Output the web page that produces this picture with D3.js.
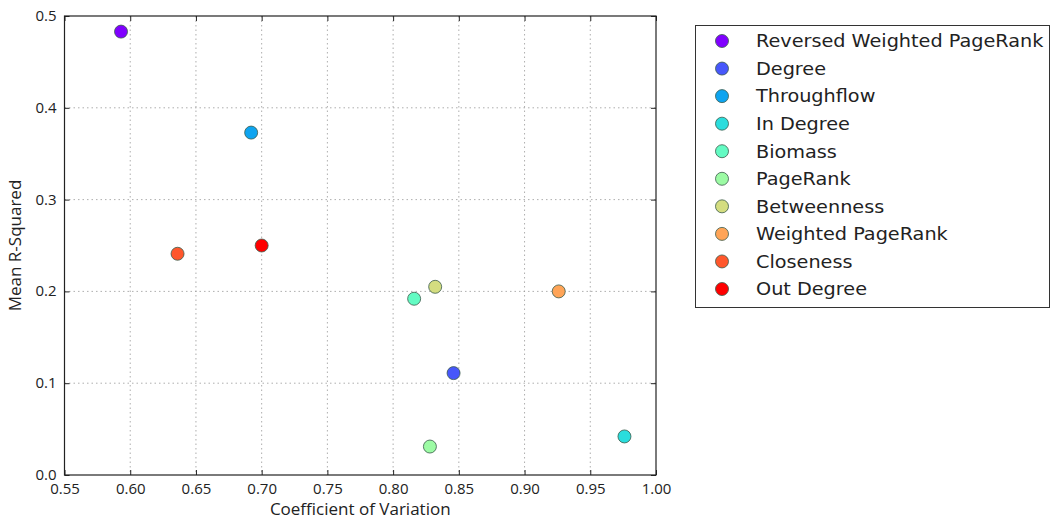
<!DOCTYPE html>
<html><head><meta charset="utf-8">
<script src="https://cdn.jsdelivr.net/npm/d3@7"></script>
<style>body{margin:0;background:#fff;}svg{display:block;}</style>
</head><body>
<svg id="chart" width="1052" height="521"></svg>
<script>
const names = ["Reversed Weighted PageRank","Degree","Throughflow","In Degree","Biomass","PageRank","Betweenness","Weighted PageRank","Closeness","Out Degree"];
const cvValues = [0.593,0.846,0.692,0.976,0.816,0.828,0.832,0.926,0.636,0.700];
const r2Values = [0.483,0.111,0.373,0.042,0.192,0.031,0.205,0.200,0.241,0.250];
const xTicks = [0.55,0.60,0.65,0.70,0.75,0.80,0.85,0.90,0.95,1.00];
const yTicks = [0.0,0.1,0.2,0.3,0.4,0.5];

function rainbow(t){
  const r = Math.min(1, Math.abs(2*t-0.5)), g = Math.sin(Math.PI*t), b = Math.cos(Math.PI*t/2);
  return d3.rgb(r*255, g*255, b*255).formatHex();
}
const colors = names.map((_, i) => rainbow(i/(names.length-1)));

const svg = d3.select("#chart");
const L = 64.5, R = 656, T = 16, B = 475;
const x = d3.scaleLinear().domain([0.55,1.0]).range([L,R]);
const y = d3.scaleLinear().domain([0,0.5]).range([B,T]);
const axFont = "'Open Sans', sans-serif";
const lgFont = "DejaVu Sans, sans-serif";

// grid
const g = svg.append("g");
g.selectAll(".vg").data(xTicks.slice(1,-1)).join("line")
  .attr("x1", d=>x(d)).attr("x2", d=>x(d)).attr("y1", T).attr("y2", B)
  .attr("stroke", "#999").attr("stroke-width", 0.8).attr("stroke-dasharray", "1.5,3");
g.selectAll(".hg").data(yTicks.slice(1,-1)).join("line")
  .attr("y1", d=>y(d)).attr("y2", d=>y(d)).attr("x1", L).attr("x2", R)
  .attr("stroke", "#999").attr("stroke-width", 0.8).attr("stroke-dasharray", "1.5,3");

// axes (ticks inward)
const axB = svg.append("g").attr("transform", `translate(0,${B})`)
  .call(d3.axisBottom(x).tickValues(xTicks).tickFormat(d3.format(".2f")).tickSizeInner(-5).tickSizeOuter(0).tickPadding(8));
const axT = svg.append("g").attr("transform", `translate(0,${T})`)
  .call(d3.axisTop(x).tickValues(xTicks).tickFormat("").tickSizeInner(-5).tickSizeOuter(0));
const axL = svg.append("g").attr("transform", `translate(${L},0)`)
  .call(d3.axisLeft(y).tickValues(yTicks).tickFormat(d3.format(".1f")).tickSizeInner(-5).tickSizeOuter(0).tickPadding(8));
const axR = svg.append("g").attr("transform", `translate(${R},0)`)
  .call(d3.axisRight(y).tickValues(yTicks).tickFormat("").tickSizeInner(-5).tickSizeOuter(0));
[axB,axT,axL,axR].forEach(a=>{
  a.select(".domain").remove();
  a.selectAll(".tick line").attr("stroke","#222");
  a.selectAll("text").attr("font-family", axFont).attr("font-size", 15).attr("fill","#222");
});
axL.selectAll(".tick text").attr("dy", "0.3em");
svg.append("rect").attr("x", L).attr("y", T).attr("width", R-L).attr("height", B-T)
  .attr("fill","none").attr("stroke","#222").attr("stroke-width",1.2);

// points
svg.append("g").selectAll("circle").data(names).join("circle")
  .attr("cx", (d,i)=>x(cvValues[i])).attr("cy", (d,i)=>y(r2Values[i])).attr("r", 6.5)
  .attr("fill", (d,i)=>colors[i]).attr("stroke", "#3a5a4a").attr("stroke-width", 0.8);

// axis labels
svg.append("text").attr("x", (L+R)/2).attr("y", 515).attr("text-anchor","middle")
  .attr("font-family", axFont).attr("font-size", 17).attr("fill","#222").text("Coefficient of Variation");
svg.append("text").attr("transform", `translate(21,${(T+B)/2}) rotate(-90)`).attr("text-anchor","middle")
  .attr("font-family", axFont).attr("font-size", 17).attr("fill","#222").text("Mean R-Squared");

// legend
const lg = svg.append("g");
lg.append("rect").attr("x", 695.5).attr("y", 25.5).attr("width", 354).attr("height", 282)
  .attr("fill","#fff").attr("stroke","#333").attr("stroke-width",1);
const rowY = d3.scaleLinear().domain([0, names.length-1]).range([41, 289]);
const items = lg.selectAll(".item").data(names).join("g").attr("transform", (d,i)=>`translate(0,${rowY(i)})`);
items.append("circle").attr("cx", 722).attr("cy", 0).attr("r", 6.5)
  .attr("fill", (d,i)=>colors[i]).attr("stroke", "#3a5a4a").attr("stroke-width", 0.8);
items.append("text").attr("transform", "translate(756,0) scale(1.1,1)").attr("dy", "0.36em")
  .attr("font-family", lgFont).attr("font-size", 17.5).attr("fill","#222").text(d=>d);
</script>
</body></html>
